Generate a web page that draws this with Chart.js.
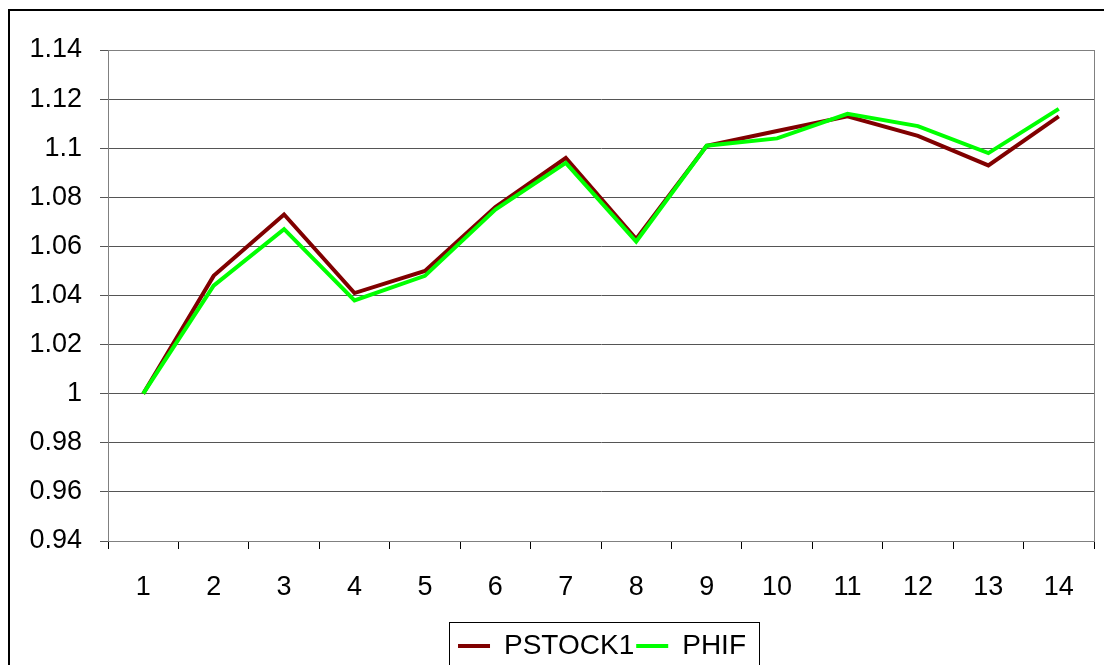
<!DOCTYPE html>
<html>
<head>
<meta charset="utf-8">
<script src="https://cdn.jsdelivr.net/npm/chart.js@4.4.1/dist/chart.umd.min.js"></script>
<style>
  html, body { margin: 0; padding: 0; background: #fff; }
  #wrap { width: 1104px; height: 665px; }
</style>
</head>
<body>
<div id="wrap"><canvas id="c" width="1104" height="665"></canvas></div>
<script>
// periods 1..14, values
const periods = ['1','2','3','4','5','6','7','8','9','10','11','12','13','14'];
const pstock1 = [1.000,1.048,1.073,1.041,1.050,1.076,1.096,1.063,1.101,1.107,1.113,1.105,1.093,1.113];
const phif    = [1.000,1.044,1.067,1.038,1.048,1.075,1.094,1.062,1.101,1.104,1.114,1.109,1.098,1.116];
const yMin = 0.94, yMax = 1.14, yStep = 0.02;

const FONT = 'Liberation Sans, Arial, sans-serif';

// outer border + plot frame + legend box, legend nudged like the excel one
const frames = {
  id: 'frames',
  afterLayout(chart) {
    const lg = chart.legend;
    lg.left += 55; lg.right += 55;
    lg.top += 9; lg.bottom += 9;
  },
  beforeDatasetsDraw(chart) {
    const ctx = chart.ctx, a = chart.chartArea;
    ctx.save();
    ctx.strokeStyle = '#808080';
    ctx.lineWidth = 1;
    ctx.strokeRect(a.left + 0.5, a.top + 0.5, a.right - a.left, a.bottom - a.top);
    ctx.restore();
  },
  afterDraw(chart) {
    const ctx = chart.ctx;
    ctx.save();
    ctx.strokeStyle = '#000';
    ctx.lineWidth = 2;
    ctx.strokeRect(9, 10, 1110, 670);
    const hb = chart.legend.legendHitBoxes;
    if (hb && hb.length) {
      const l = hb[0].left - 9;
      const last = hb[hb.length - 1];
      const r = last.left + last.width + 13;
      ctx.lineWidth = 1;
      ctx.strokeStyle = '#000';
      ctx.strokeRect(Math.round(l) + 0.5, 622.5, Math.round(r - l), 60);
    }
    ctx.restore();
  }
};

new Chart(document.getElementById('c'), {
  type: 'line',
  data: {
    labels: periods,
    datasets: [{
        label: 'PSTOCK1',
        data: pstock1,
        borderColor: '#800000',
        backgroundColor: '#800000',
        borderWidth: 4,
        pointRadius: 0,
        tension: 0,
        order: 1
      }, {
        label: 'PHIF',
        data: phif,
        borderColor: '#00ff00',
        backgroundColor: '#00ff00',
        borderWidth: 4,
        pointRadius: 0,
        tension: 0,
        order: 0
      }
    ]
  },
  options: {
    responsive: false,
    animation: false,
    layout: { padding: { left: 0, top: 50, right: 10, bottom: 4 } },
    plugins: {
      title: { display: false },
      tooltip: { enabled: false },
      legend: {
        position: 'bottom',
        labels: {
          font: { family: FONT, size: 28 },
          color: '#000',
          boxWidth: 32,
          boxHeight: 4,
          padding: 2,
          sort: (a, b) => a.datasetIndex - b.datasetIndex,
          generateLabels(chart) {
            const items = Chart.defaults.plugins.legend.labels.generateLabels(chart);
            items.forEach(it => { it.lineWidth = 0; it.strokeStyle = 'rgba(0,0,0,0)'; });
            return items;
          }
        }
      }
    },
    scales: {
      x: {
        offset: true,
        grid: { offset: true, drawOnChartArea: false, tickLength: 8, color: '#000' },
        border: { color: '#000', width: 1 },
        ticks: { font: { family: FONT, size: 27 }, color: '#000', padding: 22, maxRotation: 0 },
        afterFit(s) { s.height = 80; }
      },
      y: {
        min: yMin,
        max: yMax,
        grid: { color: '#555', tickLength: 8 },
        border: { color: '#000', width: 1 },
        ticks: {
          stepSize: yStep,
          font: { family: FONT, size: 27 },
          color: '#000',
          padding: 18,
          callback: v => String(+v.toFixed(2))
        },
        afterFit(s) { s.width = 108; }
      }
    }
  },
  plugins: [frames]
});
</script>
</body>
</html>
